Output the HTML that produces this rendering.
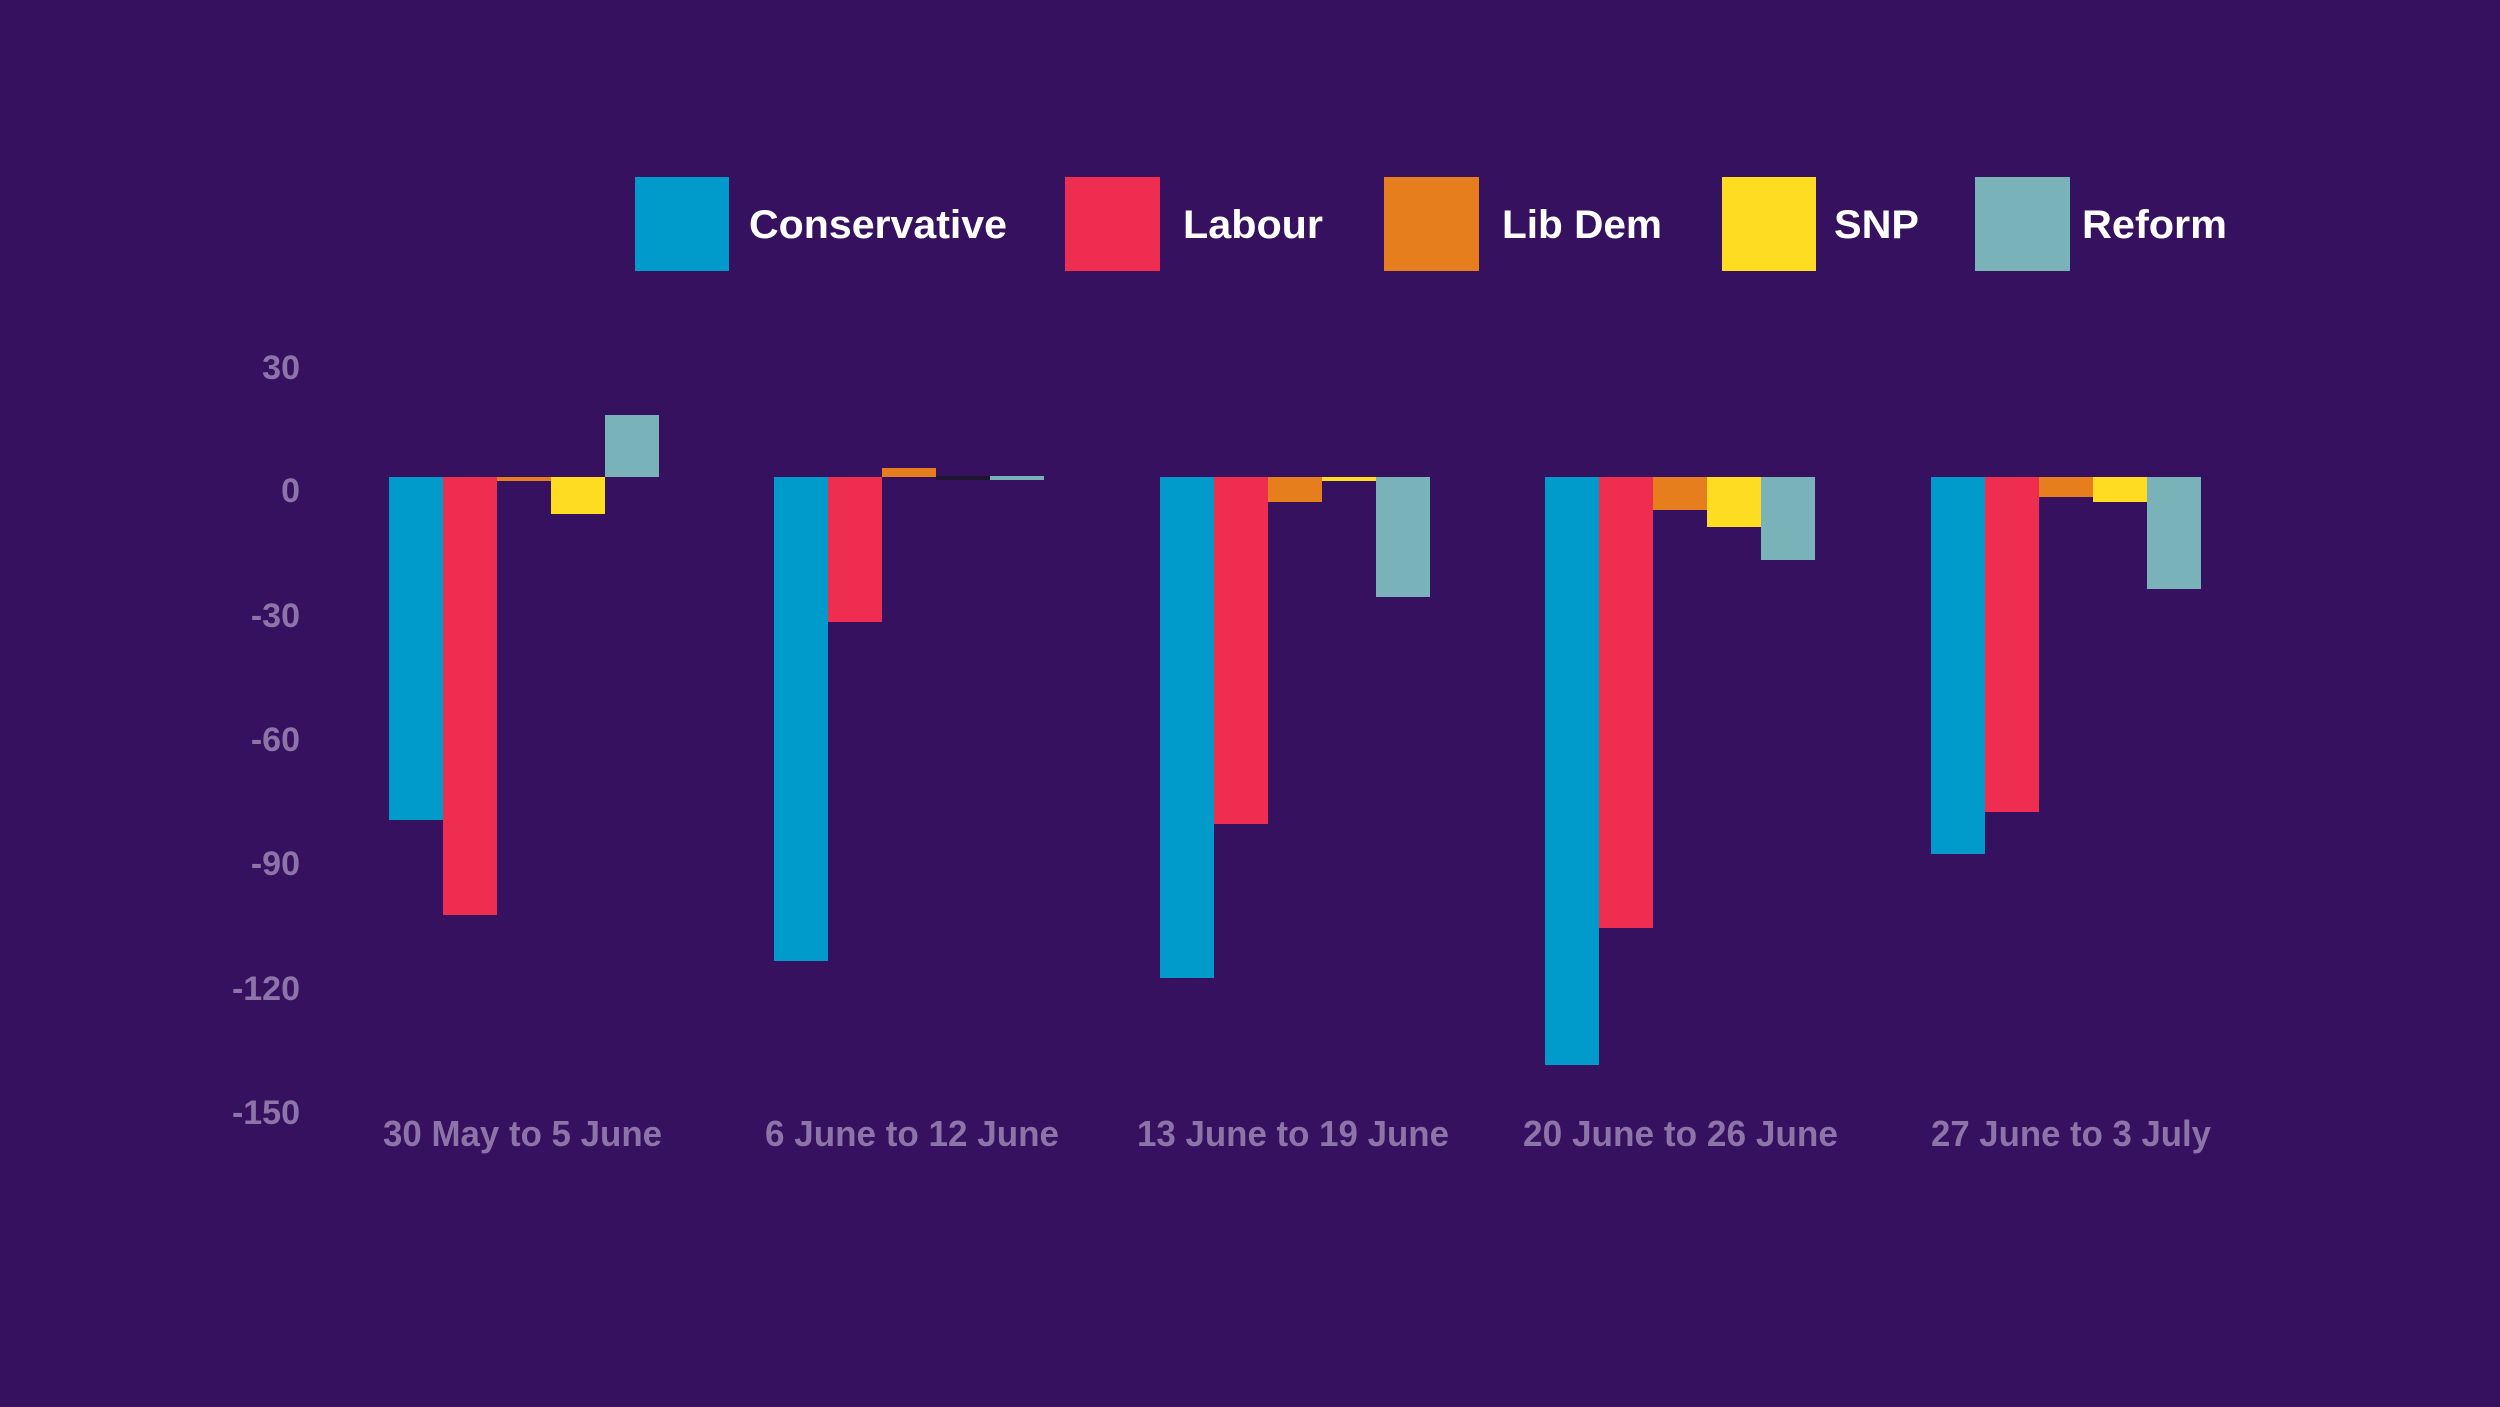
<!DOCTYPE html>
<html><head><meta charset="utf-8"><style>
html,body{margin:0;padding:0;background:#36115f;}
svg{display:block}
</style></head><body>
<svg width="2500" height="1407" viewBox="0 0 2500 1407" xmlns="http://www.w3.org/2000/svg">
<rect width="2500" height="1407" fill="#36115f"/>
<!-- legend -->
<g font-family="Liberation Sans, sans-serif" font-weight="bold" font-size="40" fill="#ffffff">
<rect x="635" y="177" width="94" height="94" fill="#009bcb"/><text x="749" y="238" textLength="258" lengthAdjust="spacingAndGlyphs">Conservative</text>
<rect x="1065" y="177" width="95" height="94" fill="#ee2d50"/><text x="1183" y="238" textLength="140" lengthAdjust="spacingAndGlyphs">Labour</text>
<rect x="1384" y="177" width="95" height="94" fill="#e67e1e"/><text x="1502" y="238" textLength="160" lengthAdjust="spacingAndGlyphs">Lib Dem</text>
<rect x="1722" y="177" width="94" height="94" fill="#fddc22"/><text x="1834" y="238" textLength="85" lengthAdjust="spacingAndGlyphs">SNP</text>
<rect x="1975" y="177" width="95" height="94" fill="#7ab2ba"/><text x="2082" y="238" textLength="145" lengthAdjust="spacingAndGlyphs">Reform</text>
</g>
<!-- y labels -->
<g font-family="Liberation Sans, sans-serif" font-weight="bold" font-size="34" fill="#8d74a8" text-anchor="end">
<text x="300" y="379">30</text>
<text x="300" y="502">0</text>
<text x="300" y="627">-30</text>
<text x="300" y="751">-60</text>
<text x="300" y="875">-90</text>
<text x="300" y="1000">-120</text>
<text x="300" y="1124">-150</text>
</g>
<!-- bars -->
<g>
<!-- G1 -->
<rect x="389" y="477" width="54" height="343" fill="#009bcb"/>
<rect x="443" y="477" width="54" height="438" fill="#ee2d50"/>
<rect x="497" y="477" width="54" height="4" fill="#e67e1e"/>
<rect x="551" y="477" width="54" height="37" fill="#fddc22"/>
<rect x="605" y="415" width="54" height="62" fill="#7ab2ba"/>
<!-- G2 -->
<rect x="774" y="477" width="54" height="484" fill="#009bcb"/>
<rect x="828" y="477" width="54" height="145" fill="#ee2d50"/>
<rect x="882" y="468" width="54" height="9" fill="#e67e1e"/>
<rect x="936" y="476" width="54" height="4" fill="#1e1530"/>
<rect x="990" y="476" width="54" height="4" fill="#7ab2ba"/>
<!-- G3 -->
<rect x="1160" y="477" width="54" height="501" fill="#009bcb"/>
<rect x="1214" y="477" width="54" height="347" fill="#ee2d50"/>
<rect x="1268" y="477" width="54" height="25" fill="#e67e1e"/>
<rect x="1322" y="477" width="54" height="4" fill="#fddc22"/>
<rect x="1376" y="477" width="54" height="120" fill="#7ab2ba"/>
<!-- G4 -->
<rect x="1545" y="477" width="54" height="588" fill="#009bcb"/>
<rect x="1599" y="477" width="54" height="451" fill="#ee2d50"/>
<rect x="1653" y="477" width="54" height="33" fill="#e67e1e"/>
<rect x="1707" y="477" width="54" height="50" fill="#fddc22"/>
<rect x="1761" y="477" width="54" height="83" fill="#7ab2ba"/>
<!-- G5 -->
<rect x="1931" y="477" width="54" height="377" fill="#009bcb"/>
<rect x="1985" y="477" width="54" height="335" fill="#ee2d50"/>
<rect x="2039" y="477" width="54" height="20" fill="#e67e1e"/>
<rect x="2093" y="477" width="54" height="25" fill="#fddc22"/>
<rect x="2147" y="477" width="54" height="112" fill="#7ab2ba"/>
</g>
<!-- x labels -->
<g font-family="Liberation Sans, sans-serif" font-weight="bold" font-size="36" fill="#8d74a8">
<text x="383" y="1146" textLength="279" lengthAdjust="spacingAndGlyphs">30 May to 5 June</text>
<text x="765" y="1146" textLength="294" lengthAdjust="spacingAndGlyphs">6 June to 12 June</text>
<text x="1137" y="1146" textLength="312" lengthAdjust="spacingAndGlyphs">13 June to 19 June</text>
<text x="1523" y="1146" textLength="315" lengthAdjust="spacingAndGlyphs">20 June to 26 June</text>
<text x="1931" y="1146" textLength="280" lengthAdjust="spacingAndGlyphs">27 June to 3 July</text>
</g>
</svg>
</body></html>
